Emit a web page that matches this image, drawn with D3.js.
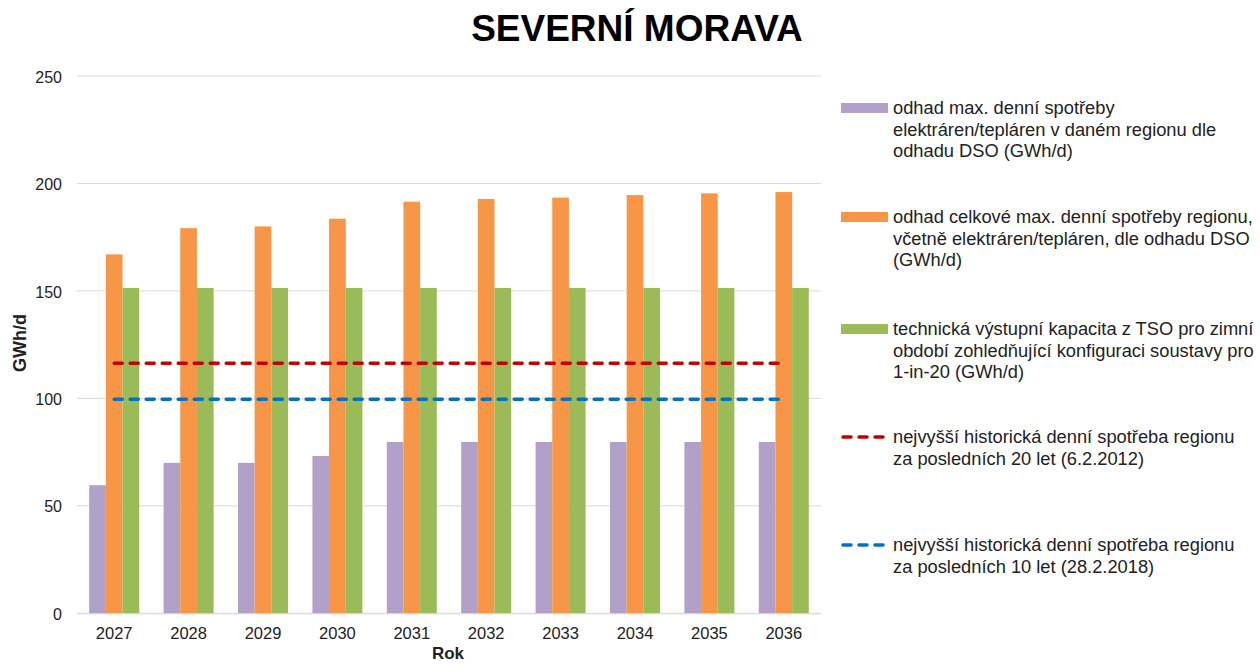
<!DOCTYPE html>
<html><head><meta charset="utf-8">
<script src="https://cdn.jsdelivr.net/npm/d3@7"></script>
<style>body{margin:0;background:#fff;font-family:"Liberation Sans",Arial,sans-serif}</style>
</head><body><svg id="c" width="1260" height="665"></svg>
<script>
const years = ["2027","2028","2029","2030","2031","2032","2033","2034","2035","2036"];
const powerPlants = [59.6,70,70,73.2,79.7,79.7,79.7,79.7,79.7,79.7];
const totalDemand = [167,179.2,180,183.6,191.5,192.8,193.4,194.6,195.4,196];
const tsoCapacity = [151.4,151.4,151.4,151.4,151.4,151.4,151.4,151.4,151.4,151.4];
const hist20 = 116.3;
const hist10 = 99.6;
const yTicks = [0,50,100,150,200,250];
const seriesNames = [
 "odhad max. denní spotřeby|elektráren/tepláren v daném regionu dle|odhadu DSO (GWh/d)",
 "odhad celkové max. denní spotřeby regionu,|včetně elektráren/tepláren, dle odhadu DSO|(GWh/d)",
 "technická výstupní kapacita z TSO pro zimní|období zohledňující konfiguraci soustavy pro|1-in-20 (GWh/d)",
 "nejvyšší historická denní spotřeba regionu|za posledních 20 let (6.2.2012)",
 "nejvyšší historická denní spotřeba regionu|za posledních 10 let (28.2.2018)"
];
const colors = ["#b1a0c7","#f79646","#9bbb59","#c00000","#0070c0"];

const svg = d3.select("#c");
const L=77, R=821, T=76, B=613.3;
const x0 = d3.scaleBand().domain(years).range([L,R]).paddingInner(0.328).paddingOuter(0.164);
const x1 = d3.scaleBand().domain([0,1,2]).range([0,x0.bandwidth()]);
const y = d3.scaleLinear().domain([0,250]).range([B,T]);

// grid
svg.append("g").selectAll("line").data(yTicks).join("line")
 .attr("x1",L).attr("x2",R).attr("y1",d=>y(d)).attr("y2",d=>y(d))
 .attr("stroke","#d9d9d9").attr("stroke-width",1);

// y axis labels
const ya = svg.append("g").attr("transform",`translate(${L},0)`)
 .call(d3.axisLeft(y).tickValues(yTicks).tickSize(0).tickPadding(15));
ya.select(".domain").remove();
ya.selectAll("text").attr("font-family","Liberation Sans, Arial").attr("font-size",16).attr("fill","#222").attr("dy","0.38em");

// bars
const series=[powerPlants,totalDemand,tsoCapacity];
series.forEach((s,si)=>{
 svg.append("g").selectAll("rect").data(s).join("rect")
  .attr("x",(d,i)=>x0(years[i])+x1(si)).attr("width",x1.bandwidth())
  .attr("y",d=>y(d)).attr("height",d=>B-y(d)).attr("fill",colors[si]);
});

// x axis
const xa = svg.append("g").attr("transform",`translate(0,${B})`)
 .call(d3.axisBottom(x0).tickSize(0).tickPadding(14));
xa.select(".domain").attr("stroke","#d9d9d9");
xa.selectAll("text").attr("font-family","Liberation Sans, Arial").attr("font-size",16.5).attr("fill","#222");

// historical lines
const lineGen = d3.line().x(d=>x0(d[0])+x0.bandwidth()/2).y(d=>y(d[1]));
[[hist20,3],[hist10,4]].forEach(([v,ci])=>{
 svg.append("path").datum(years.map(yr=>[yr,v])).attr("d",lineGen)
  .attr("fill","none").attr("stroke",colors[ci]).attr("stroke-width",3.5)
  .attr("stroke-dasharray","8,8").attr("stroke-linecap","round");
});

// titles
svg.append("text").attr("x",637).attr("y",41).attr("text-anchor","middle")
 .attr("font-size",37).attr("font-weight","bold").attr("fill","#000").text("SEVERNÍ MORAVA");
svg.append("text").attr("transform",`translate(26,343) rotate(-90)`).attr("text-anchor","middle")
 .attr("font-size",18).attr("font-weight","bold").attr("fill","#222").text("GWh/d");
svg.append("text").attr("x",448).attr("y",659).attr("text-anchor","middle")
 .attr("font-size",17).attr("font-weight","bold").attr("fill","#222").text("Rok");

// legend
const legY=[108,217,329,437,545];
seriesNames.forEach((nm,i)=>{
 const g=svg.append("g");
 if(i<3){
  g.append("rect").attr("x",841).attr("y",legY[i]-5).attr("width",47).attr("height",10).attr("fill",colors[i]);
 } else {
  g.append("line").attr("x1",843).attr("x2",886).attr("y1",legY[i]).attr("y2",legY[i])
   .attr("stroke",colors[i]).attr("stroke-width",3.5).attr("stroke-dasharray","8,8").attr("stroke-linecap","round");
 }
 nm.split("|").forEach((ln,j)=>{
  g.append("text").attr("x",893).attr("y",legY[i]+j*21.3).attr("dy","0.35em")
   .attr("font-size",18.3).attr("fill","#222").text(ln);
 });
});
</script></body></html>
